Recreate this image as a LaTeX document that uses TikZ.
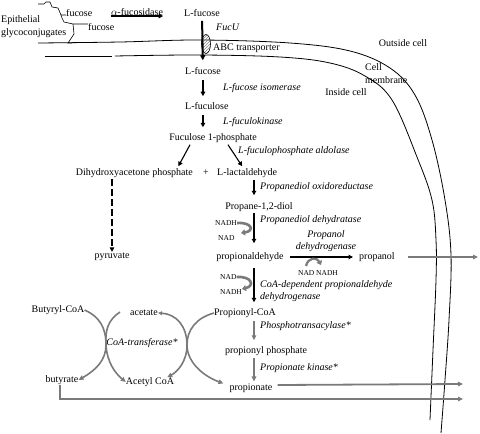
\documentclass[tikz,border=0pt]{standalone}
\usepackage{fontspec}
\setmainfont{Liberation Serif}
\usetikzlibrary{arrows.meta,patterns,shapes.geometric}
\definecolor{gr}{RGB}{122,122,122}
\begin{document}
\begin{tikzpicture}[x=1pt,y=-1pt,
  txt/.style={inner sep=0pt, font=\fontsize{10}{12}\selectfont},
  enz/.style={inner sep=0pt, font=\fontsize{10}{12}\selectfont\itshape},
  sm/.style={inner sep=0pt, font=\fontsize{7.5}{9}\selectfont},
  blk/.style={line width=1.1pt, -{Triangle[length=4.5pt,width=4.5pt]}},
  gar/.style={gr, line width=1.6pt, -{Triangle[length=5pt,width=4.5pt]}},
  cof/.style={gr, line width=2.6pt, -{Triangle[length=4pt,width=6pt]}},
  mem/.style={line width=0.8pt}]
\useasboundingbox (0,0) rectangle (480,434);

% membrane
\draw[mem] plot[smooth, tension=0.6] coordinates {(38,43) (120,42) (200,40) (290,43) (350,51) (390,68) (415,95) (432,140) (445,200) (451,255) (449,320) (445,380) (441,433)};
\draw[mem] (45,56) -- (112,56);
\draw[mem] plot[smooth, tension=0.6] coordinates {(115,56) (200,55) (280,57) (330,63) (365,76) (392,100) (417,157) (432,200) (436,240) (436,280) (433,350) (430,420)};

% glycoconjugates
\node[txt, anchor=west, align=left, font=\fontsize{10}{13}\selectfont] (epi) at (1,27) {Epithelial\\glycoconjugates};
\node[txt, anchor=west] (fuc1) at (66,13) {fucose};
\node[txt, anchor=west] (fuc2) at (88,27) {fucose};
\draw[line width=0.6pt] (38,4) -- (44,4) -- (46,2) -- (50,2) -- (52,7) -- (58,8) -- (61,15) -- (fuc1.west |- 0,15);
\draw[line width=0.6pt] (61,15) -- (62,18) -- (64,22) -- (73,24) -- (fuc2.west |- 0,24);
\draw[line width=0.6pt] (73,24) -- (74,34) -- (68,43) -- (72,43);

\node[txt] (lf1) at (202,13) {L-fucose};
\node[txt, anchor=south] (fsd) at (137,16) {$\alpha$-fucosidase};
\draw[blk] (fsd.south west) -- (fsd.south east);

% transporter
\node[ellipse, draw, line width=0.6pt, minimum width=9pt, minimum height=19pt, inner sep=0pt, pattern=north east lines, pattern color=gray] (abc) at (206,44) {};
\node[txt, anchor=west] (lf2) at (185,71) {L-fucose};
\draw[line width=2pt, -{Triangle[length=5pt,width=5pt]}, shorten <=4pt, shorten >=7pt] (lf1.south) -- (lf2.north);
\node[enz, anchor=west] (fucu) at (216,27) {FucU};
\node[txt, anchor=west] (abct) at (213,48) {ABC transporter};
\node[txt] (out) at (403,43) {Outside cell};
\node[txt, anchor=west, align=left, font=\fontsize{10}{13}\selectfont] (memb) at (365,74) {Cell\\membrane};
\node[txt] (in) at (346,92) {Inside cell};

% main column
\node[txt, anchor=west] (lfu) at (185,106) {L-fuculose};
\node[enz, anchor=west] (iso) at (223,88) {L-fucose isomerase};
\draw[blk, shorten <=5pt, shorten >=6pt] (lf2.south) -- (lf2.south |- lfu.north);
\node[txt] (f1p) at (213,138) {Fuculose 1-phosphate};
\node[enz, anchor=west] (kin) at (223,122) {L-fuculokinase};
\draw[blk, shorten <=5pt, shorten >=6pt] (lf2.south |- lfu.south) -- (lf2.south |- f1p.north);

\node[txt, anchor=east] (dhap) at (193,173) {Dihydroxyacetone phosphate};
\node[txt] (plus) at (206,173) {+};
\node[txt, anchor=west] (lact) at (217,173) {L-lactaldehyde};
\node[enz, anchor=west] (ald) at (238,151) {L-fuculophosphate aldolase};
\draw[blk] ([xshift=-23pt,yshift=-2pt]f1p.south) -- ([xshift=44pt,yshift=2pt]dhap.north);
\draw[blk] ([xshift=15pt,yshift=-2pt]f1p.south) -- ([xshift=-5pt,yshift=2pt]lact.north);

\node[txt] (pyr) at (112,257) {pyruvate};
\draw[blk, dash pattern=on 7pt off 3pt, shorten <=1pt, shorten >=1pt] (pyr.north |- dhap.south) -- (pyr.north);

\coordinate (c2) at (254,0);
\node[txt] (pd) at (259,207) {Propane-1,2-diol};
\node[enz, anchor=west] (pdo) at (260,187) {Propanediol oxidoreductase};
\draw[blk, shorten <=2pt, shorten >=7pt] (c2 |- lact.south) -- (c2 |- pd.north);

\node[txt] (pald) at (250,257) {propionaldehyde};
\node[enz, anchor=west] (pdd) at (260,220) {Propanediol dehydratase};
\draw[blk, shorten <=1pt, shorten >=9pt] (c2 |- pd.south) -- (c2 |- pald.north);
\node[sm, anchor=west] (nadh1) at (215,223) {NADH};
\node[sm, anchor=west] (nad1) at (218,238) {NAD};
\draw[cof] (nadh1.east) .. controls (252,222) and (255,231) .. (241,233);

\node[txt] (pnl) at (377,257) {propanol};
\draw[blk] ([xshift=6pt]pald.east) -- ([xshift=-6pt]pnl.west);
\node[enz, align=center, font=\fontsize{10}{12}\selectfont\itshape] (pdh) at (326,241) {Propanol\\dehydrogenase};
\node[sm] (nadpair) at (318,273) {NAD NADH};
\draw[cof, line width=2.2pt] (306,266) .. controls (308,257) and (317,257) .. (321,265);
\draw[gar, line width=1.8pt] ([xshift=13pt]pnl.east) -- (478,257);

\node[txt] (pcoa) at (245,313) {Propionyl-CoA};
\node[sm, anchor=west] (nad2) at (220,277) {NAD};
\node[sm, anchor=west] (nadh2) at (220,292) {NADH};
\draw[cof] (nad2.east) .. controls (252,276) and (255,286) .. (242,289);
\draw[blk, shorten <=6pt, shorten >=6pt] (c2 |- pald.south) -- (c2 |- pcoa.north);
\node[enz, anchor=west, align=left] (cdpd) at (260,291) {CoA-dependent propionaldehyde\\dehydrogenase};

\node[txt] (pp) at (266,351) {propionyl phosphate};
\node[enz, anchor=west] (ptr) at (260,326) {Phosphotransacylase*};
\draw[gar, shorten <=3pt, shorten >=6pt] (c2 |- pcoa.south) -- (c2 |- pp.north);
\node[txt] (prop) at (251,388) {propionate};
\node[enz, anchor=west] (pk) at (260,368) {Propionate kinase*};
\draw[gar, shorten <=2pt, shorten >=2pt] (c2 |- pp.south) -- (c2 |- prop.north);
\draw[gar, line width=1.8pt] ([xshift=5pt,yshift=3pt]prop.east) -- (463,384);

% CoA-transferase
\node[txt] (bcoa) at (58,310) {Butyryl-CoA};
\node[txt] (ace) at (144,313) {acetate};
\node[enz] (cot) at (142,343) {CoA-transferase*};
\node[txt] (acoa) at (150,382) {Acetyl CoA};
\node[txt] (but) at (62,380) {butyrate};
\draw[gar] (bcoa.east) .. controls (100,317) and (106,328) .. (106,345) .. controls (106,360) and (96,370) .. (but.east);
\draw[gar] (120,312) .. controls (108,320) and (105,330) .. (106,345) .. controls (107,362) and (115,373) .. (acoa.west);
\draw[gar, {Triangle[length=4pt,width=4pt]}-{Triangle[length=5pt,width=4.5pt]}] (ace.east) .. controls (176,314) and (187,326) .. (187,345) .. controls (187,362) and (203,376) .. ([xshift=-6pt]prop.north west);
\draw[gar] (pcoa.west) .. controls (196,318) and (187,330) .. (187,345) .. controls (187,362) and (177,372) .. ([xshift=-7pt]acoa.north east);

\draw[gar, line width=1.8pt] (but.south -| 60,0) -- (60,399) -- (463,399);
\end{tikzpicture}
\end{document}
